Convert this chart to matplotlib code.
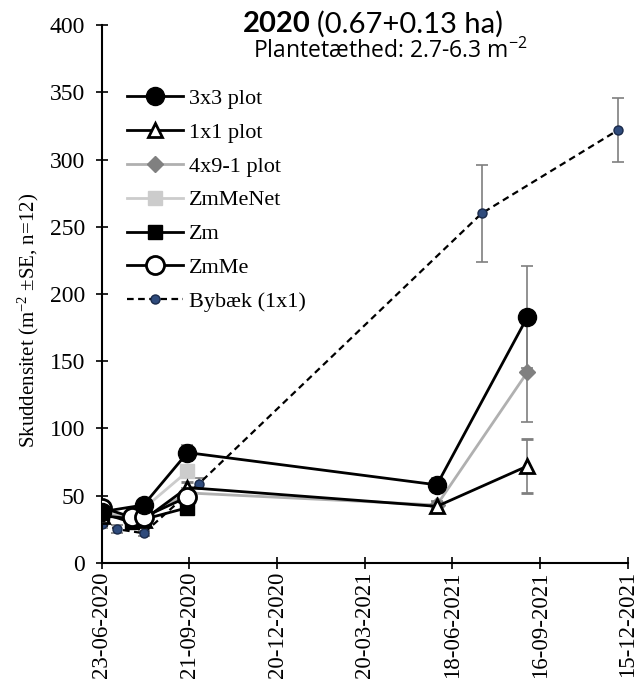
import numpy as np
import matplotlib.pyplot as plt
import matplotlib.dates as mdates
from datetime import datetime, timedelta

plt.rcParams['font.family'] = ['Liberation Serif', 'DejaVu Serif']
plt.rcParams['mathtext.fontset'] = 'stix'

def d(s):
    return datetime.strptime(s, "%d-%m-%Y")

# series data
dates_3x3 = [d("23-06-2020"), d("05-08-2020"), d("19-09-2020"), d("02-06-2021"), d("03-09-2021")]
v_3x3 = [38, 43, 82, 58, 183]
e_3x3 = [4, 4, 6, 5, 38]

dates_1x1 = dates_3x3
v_1x1 = [35, 32, 56, 42, 72]
e_1x1 = [3, 3, 4, 3, 20]

dates_4x9 = dates_3x3
v_4x9 = [36, 33, 52, 43, 142]
e_4x9 = [3, 3, 4, 3, 37]

dates_net = [d("23-06-2020"), d("24-07-2020"), d("19-09-2020")]
v_net = [38, 33, 68]
e_net = [3, 3, 5]

dates_zm = [d("23-06-2020"), d("24-07-2020"), d("19-09-2020")]
v_zm = [37, 30, 41]
e_zm = [3, 3, 3]

dates_zmme = [d("23-06-2020"), d("24-07-2020"), d("05-08-2020"), d("19-09-2020")]
v_zmme = [41, 34, 34, 49]
e_zmme = [3, 3, 3, 4]

dates_byb = [d("23-06-2020"), d("09-07-2020"), d("05-08-2020"), d("01-10-2020"), d("18-07-2021"), d("05-12-2021")]
v_byb = [29, 25, 22, 59, 260, 322]
e_byb = [3, 3, 2, 4, 36, 24]

fig = plt.figure(figsize=(6.4, 7), dpi=100)
ax = fig.add_axes([0.159, 0.196, 0.822, 0.768])

ecol = '#7f7f7f'
kw = dict(capsize=4, ecolor=ecol, elinewidth=1.2, capthick=1.2)

handles = {}
c = ax.errorbar(dates_byb, v_byb, yerr=e_byb, color='black', linestyle=(0, (3, 2)), lw=1.6,
                marker='o', ms=6.5, mfc='#2f4b7c', mec='#1a2a4a', zorder=2, **kw)
handles['Bybæk (1x1)'] = c[0]
c = ax.errorbar(dates_net, v_net, yerr=e_net, color='#cccccc', lw=2, marker='s', ms=10,
                mfc='#cccccc', mec='#cccccc', zorder=3, **kw)
handles['ZmMeNet'] = c[0]
c = ax.errorbar(dates_zm, v_zm, yerr=e_zm, color='black', lw=2, marker='s', ms=10,
                mfc='black', mec='black', zorder=3, **kw)
handles['Zm'] = c[0]
c = ax.errorbar(dates_4x9, v_4x9, yerr=e_4x9, color='#b0b0b0', lw=2, marker='D', ms=8,
                mfc='#808080', mec='#808080', zorder=4, **kw)
handles['4x9-1 plot'] = c[0]
c = ax.errorbar(dates_1x1, v_1x1, yerr=e_1x1, color='black', lw=2, marker='^', ms=10,
                mfc='white', mec='black', mew=2, zorder=4, **kw)
handles['1x1 plot'] = c[0]
c = ax.errorbar(dates_zmme, v_zmme, yerr=e_zmme, color='black', lw=2, marker='o', ms=13,
                mfc='white', mec='black', mew=2, zorder=5, **kw)
handles['ZmMe'] = c[0]
c = ax.errorbar(dates_3x3, v_3x3, yerr=e_3x3, color='black', lw=2, marker='o', ms=13,
                mfc='black', mec='black', zorder=5, **kw)
handles['3x3 plot'] = c[0]

start = d("23-06-2020")
ticks = [start + timedelta(days=90 * k) for k in range(7)]
ax.set_xlim(ticks[0], ticks[-1])
ax.set_xticks(ticks)
ax.xaxis.set_major_formatter(mdates.DateFormatter("%d-%m-%Y"))
ax.set_ylim(0, 400)
ax.set_yticks(np.arange(0, 401, 50))

ax.tick_params(axis='x', labelrotation=90, labelsize=16.5, pad=2)
ax.tick_params(axis='y', labelsize=17, pad=8)
ax.tick_params(axis='both', direction='inout', length=8, width=1.2)
ax.spines['top'].set_visible(False)
ax.spines['right'].set_visible(False)
ax.spines['left'].set_linewidth(1.5)
ax.spines['bottom'].set_linewidth(1.5)

ax.set_ylabel("Skuddensitet (m$\\mathregular{^{-2}}$ ±SE, n=12)", fontsize=15)
ax.yaxis.set_label_coords(-0.115, 0.45)

order = ['3x3 plot', '1x1 plot', '4x9-1 plot', 'ZmMeNet', 'Zm', 'ZmMe', 'Bybæk (1x1)']
ax.legend([handles[o] for o in order], order, loc='upper left', bbox_to_anchor=(0.01, 0.92),
          frameon=False, fontsize=16, handlelength=2.5, labelspacing=0.6,
          handletextpad=0.3)

fig.text(0.486, 0.965, "2020", fontsize=21, family='Lato', weight='bold', ha='right', va='center')
fig.text(0.495, 0.965, "(0.67+0.13 ha)", fontsize=21, family='Lato', ha='left', va='center')
fig.text(0.61, 0.926, "Plantetæthed: 2.7-6.3 m$\\mathregular{^{-2}}$", fontsize=16.5, family='Open Sans',
         ha='center', va='center')

fig.savefig("out.png", dpi=100)
